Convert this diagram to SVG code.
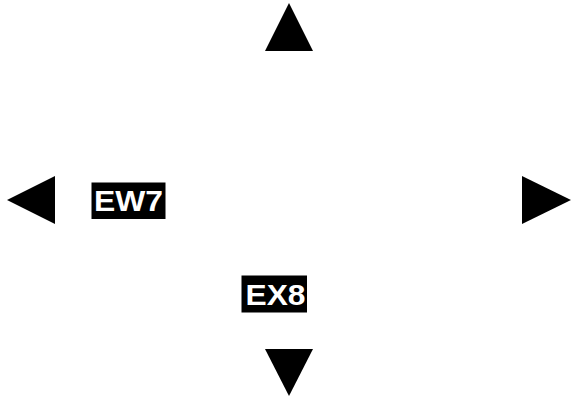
<svg xmlns="http://www.w3.org/2000/svg" width="573" height="397" viewBox="0 0 573 397">
<style>
.arrow{fill:#000;stroke:none}
.bg{fill:#000}
.lbl{font-family:"Liberation Sans",Arial,sans-serif;font-weight:bold;font-size:30px;fill:#fff;text-anchor:middle}
</style>
<rect width="573" height="397" fill="#fff"/>
<g id="connectors">
<polygon id="arrow-up" class="arrow" points="289,3 313,51 265,51"/>
<polygon id="arrow-left" class="arrow" points="7,200 55,176 55,224"/>
<polygon id="arrow-right" class="arrow" points="571,200 522,176 522,224"/>
<polygon id="arrow-down" class="arrow" points="265,349 313,349 289,396"/>
</g>
<g id="node-EW7">
<rect class="bg" x="91.5" y="182.5" width="74" height="36.5"/>
<text class="lbl" x="128.5" y="211" textLength="69" lengthAdjust="spacingAndGlyphs">EW7</text>
</g>
<g id="node-EX8">
<rect class="bg" x="241.5" y="275.5" width="65.5" height="37"/>
<text class="lbl" x="275.5" y="304.5" textLength="60" lengthAdjust="spacingAndGlyphs">EX8</text>
</g>
</svg>
